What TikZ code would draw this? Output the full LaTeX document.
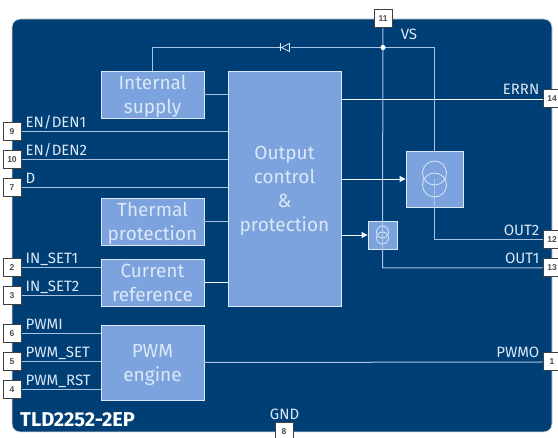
\documentclass[tikz,border=0pt]{standalone}
\usepackage{fontspec}
\setmainfont{Fira Sans}
\newfontfamily\pinfont{Liberation Sans}
\usetikzlibrary{positioning, calc, arrows.meta}
\definecolor{chipblue}{HTML}{003F76}
\definecolor{blockblue}{HTML}{7CA3DE}
\definecolor{wireblue}{HTML}{A9C3E3}
\definecolor{textlight}{HTML}{DCE8F6}

\begin{document}
\begin{tikzpicture}[
                x=1pt, y=-1pt,
                block/.style={draw=textlight, fill=blockblue, line width=0.9pt, inner sep=0pt, text=textlight, align=center, text depth=0pt, font=\fontsize{19}{24}\selectfont},
                pinbox/.style={draw=black!75, fill=white, line width=1pt, minimum size=18pt, inner sep=0pt, font=\pinfont\bfseries\fontsize{8.5}{8.5}\selectfont, text=black!70},
                siglbl/.style={text=textlight, inner sep=0pt, font=\fontsize{15}{15}\selectfont},
                wire/.style={draw=wireblue, line width=1pt},
                ctrl/.style={draw=white!90!wireblue, line width=0.9pt},
                ring/.style={draw=textlight, line width=0.8pt},
            ]
                \useasboundingbox (0,0) rectangle (558,438);
                % Chip outline
                \node[draw=black!15, fill=chipblue, rounded corners=8pt, line width=0.8pt, minimum width=540pt, minimum height=413pt, inner sep=0pt] (chip) at (282,225.5) {};
                \node[anchor=base west, inner sep=0pt, text=white, font=\bfseries\fontsize{20}{20}\selectfont] (title) at (20,427) {TLD2252-2EP};

                % Function blocks
                \node[block, minimum width=103pt, minimum height=47pt] (supply) at (152.5,94.5) {Internal\\supply};
                \node[block, minimum width=103pt, minimum height=47pt] (thermal) at (152.5,221.5) {Thermal\\protection};
                \node[block, minimum width=103pt, minimum height=47pt] (current) at (152.5,282.5) {Current\\reference};
                \node[block, minimum width=103pt, minimum height=75pt] (pwm) at (152.5,362.5) {PWM\\engine};
                \node[block, minimum width=113pt, minimum height=235pt] (output) at (284.5,188.5) {Output\\control\\\&\\protection};
                \node[block, minimum width=57pt, minimum height=56pt] (bigsrc) at (434.5,179) {};
                \node[block, minimum width=29pt, minimum height=28pt] (smallsrc) at (382.5,235) {};

                % Pins on the left
                \foreach \pinname/\pinnum/\ypos in {p9/9/132, p10/10/160, p7/7/188, p2/2/268, p3/3/296, p6/6/334, p5/5/362, p4/4/390}
                    \node[pinbox] (\pinname) at (12,\ypos) {\pinnum};
                % Pins on the right and top/bottom
                \foreach \pinname/\pinnum/\ypos in {p14/14/99, p12/12/240, p13/13/268, p1/1/362}
                    \node[pinbox] (\pinname) at (552,\ypos) {\pinnum};
                \node[pinbox] (p11) at (383,19) {11};
                \node[pinbox] (p8) at (284,432) {8};

                % Left side wires
                \foreach \pinname/\blockname in {p9/output, p10/output, p7/output, p2/current, p3/current, p6/pwm, p5/pwm, p4/pwm}
                    \draw[wire] (\pinname.east) -- (\pinname.east -| \blockname.west);
                \draw[wire] (supply.east) -- (supply.east -| output.west);
                \draw[wire] (thermal.east) -- (thermal.east -| output.west);
                \draw[ctrl] (current.east) -- (current.east -| output.west);
                \draw[wire] (pwm.east) -- (p1.west);
                \draw[ctrl] (p14.west) -- (p14.west -| output.east);

                % VS rail with the diode
                \coordinate (vsdot) at (p11.south |- 0,47.5);
                \coordinate (diode) at (284,47.5);
                \draw[wire] (supply.north) |- (diode);
                \draw[wire] (diode) -- (vsdot);
                \draw[wire] (vsdot) -| (bigsrc.north);
                \draw[wire] (p11.south) -- (smallsrc.center) -- (smallsrc.center |- p13.west) -- (p13.west);
                \draw[wire] (bigsrc.center) -- (bigsrc.center |- p12.west) -- (p12.west);
                \fill[white] (vsdot) circle (2.6pt);
                \fill[chipblue] (278.5,43.5) rectangle (290.5,51.5);
                \draw[ring] (279,47.5) -- (290,47.5);
                \draw[ring, fill=chipblue] (289.5,43.5) -- (289.5,51.5) -- (281.5,47.5) -- cycle;
                \draw[ring] (280.5,43.5) -- (280.5,51.5);

                % Current source symbols
                \draw[ring] ($(bigsrc.center)+(0,-6)$) circle (12pt);
                \draw[ring] ($(bigsrc.center)+(0,6)$) circle (12pt);
                \draw[ring] ($(smallsrc.center)+(0,-3)$) circle (6pt);
                \draw[ring] ($(smallsrc.center)+(0,3)$) circle (6pt);

                % Control arrows
                \draw[ctrl, -{Triangle[length=6pt, width=6pt]}] (output.east |- bigsrc.west) -- (bigsrc.west);
                \draw[ctrl, -{Triangle[length=6pt, width=6pt]}] (output.east |- smallsrc.west) -- (smallsrc.west);

                % Signal labels
                \foreach \pinname/\sigtext in {p9/EN\slash DEN1, p10/EN\slash DEN2, p7/D, p2/IN\_SET1, p3/IN\_SET2, p6/PWMI, p5/PWM\_SET, p4/PWM\_RST}
                    \node[siglbl, above right=4pt and 4pt of \pinname.east, anchor=base west] {\sigtext};
                \foreach \pinname/\sigtext in {p14/ERRN, p12/OUT2, p13/OUT1, p1/PWMO}
                    \node[siglbl, above left=4pt and 3pt of \pinname.west, anchor=base east] {\sigtext};
                \node[siglbl] (vslbl) at (409,34) {VS};
                \node[siglbl] (gndlbl) at (284.5,414) {GND};
            \end{tikzpicture}
\end{document}
